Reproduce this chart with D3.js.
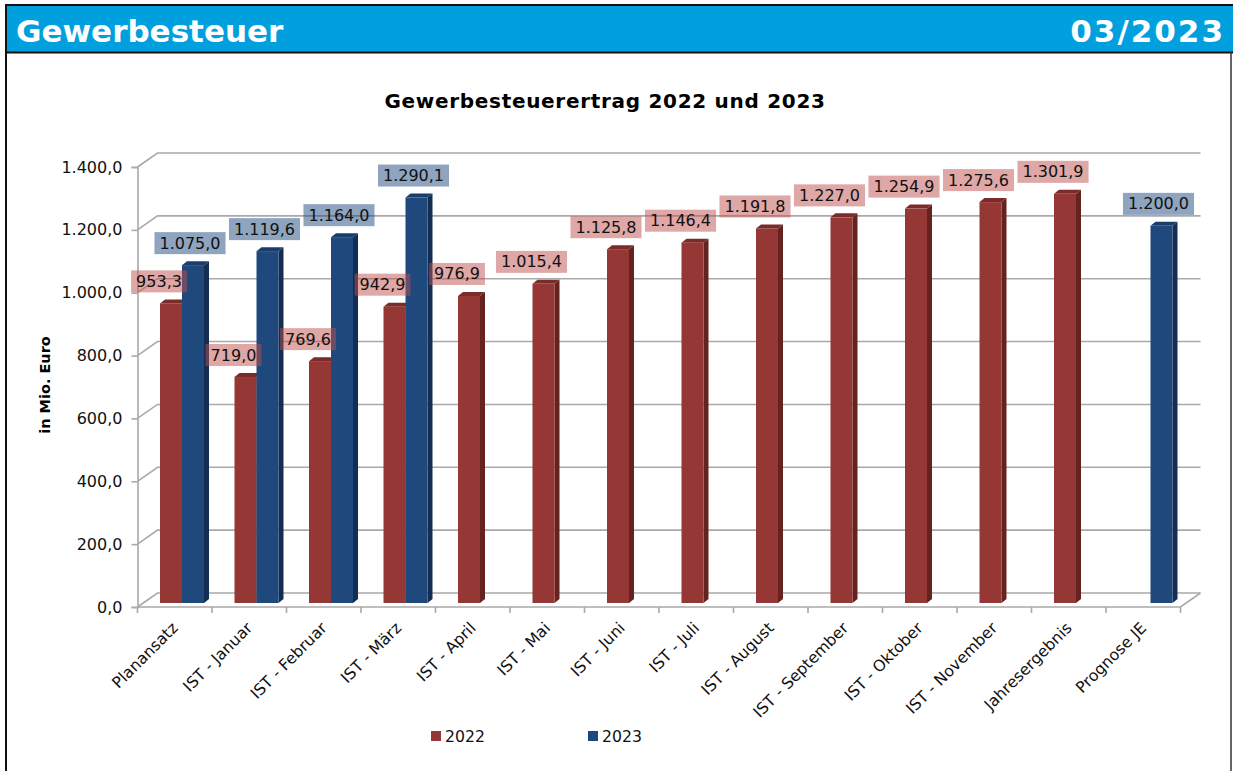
<!DOCTYPE html>
<html>
<head>
<meta charset="utf-8">
<script src="https://cdn.jsdelivr.net/npm/d3@7"></script>
<style>
  body { margin: 0; background: #fff; }
  svg { display: block; font-family: "DejaVu Sans", Verdana, sans-serif; }
</style>
</head>
<body>
<script>
// Data
const categories = ["Planansatz", "IST - Januar", "IST - Februar", "IST - März", "IST - April", "IST - Mai",
  "IST - Juni", "IST - Juli", "IST - August", "IST - September", "IST - Oktober", "IST - November",
  "Jahresergebnis", "Prognose JE"];
const values2022 = [953.3, 719.0, 769.6, 942.9, 976.9, 1015.4, 1125.8, 1146.4, 1191.8, 1227.0, 1254.9, 1275.6, 1301.9, null];
const values2023 = [1075.0, 1119.6, 1164.0, 1290.1, null, null, null, null, null, null, null, null, null, 1200.0];
const yTicks = [0, 200, 400, 600, 800, 1000, 1200, 1400];
const seriesNames = ["2022", "2023"];

let width = 1233;
let height = 771;

const de = d3.formatLocale({decimal: ",", thousands: ".", grouping: [3], currency: ["", " €"]});
const fmt = de.format(",.1f");

const svg = d3.select("body").append("svg")
    .attr("width", width)
    .attr("height", height)
    .attr("viewBox", [0, 0, width, height]);

// Header bar
svg.append("rect")
    .attr("x", 6).attr("y", 5).attr("width", width - 6).attr("height", 47)
    .attr("fill", "#00a0df");
svg.append("line").attr("x1", 6).attr("x2", width).attr("y1", 5).attr("y2", 5)
    .attr("stroke", "#111").attr("stroke-width", 2);
svg.append("line").attr("x1", 6).attr("x2", width).attr("y1", 52.5).attr("y2", 52.5)
    .attr("stroke", "#111").attr("stroke-width", 2);
svg.append("line").attr("x1", 6).attr("x2", 6).attr("y1", 4).attr("y2", height)
    .attr("stroke", "#111").attr("stroke-width", 2);
svg.append("line").attr("x1", 1231).attr("x2", 1231).attr("y1", 52).attr("y2", height)
    .attr("stroke", "#333").attr("stroke-width", 1.5);

svg.append("text")
    .attr("x", 16).attr("y", 42)
    .attr("fill", "#fff").attr("font-weight", "bold").attr("font-size", 31)
    .text("Gewerbesteuer");
svg.append("text")
    .attr("x", 1225).attr("y", 42)
    .attr("text-anchor", "end")
    .attr("fill", "#fff").attr("font-weight", "bold").attr("font-size", 31)
    .attr("letter-spacing", 2)
    .text("03/2023");

// Chart title
svg.append("text")
    .attr("x", 605).attr("y", 108)
    .attr("text-anchor", "middle")
    .attr("font-weight", "bold").attr("font-size", 20)
    .attr("letter-spacing", 0.7)
    .text("Gewerbesteuerertrag 2022 und 2023");

// Scales
const x = d3.scaleBand()
    .domain(categories)
    .range([137.5, 1180.5]);

const y = d3.scaleLinear()
    .domain([0, 1400])
    .range([607, 167]);

// 3D depth of the back wall and of each bar
const depthX = 20, depthY = 14;
const barW = 22, barDX = 5, barDY = 4, barLift = 4;

// Back wall gridlines (with diagonal on the side wall)
const grid = svg.append("g").attr("fill", "none").attr("stroke", "#a9a9a9").attr("stroke-width", 1.6);
grid.selectAll("path")
    .data(yTicks)
    .join("path")
    .attr("d", d => `M${x.range()[0]},${y(d)} L${x.range()[0] + depthX},${y(d) - depthY} L${x.range()[1] + depthX},${y(d) - depthY}`);

// Floor: front edge and right diagonal
svg.append("path")
    .attr("fill", "none").attr("stroke", "#a9a9a9").attr("stroke-width", 1.6)
    .attr("d", `M${x.range()[0]},${y(0)} L${x.range()[1]},${y(0)} L${x.range()[1] + depthX},${y(0) - depthY}`);

// Y axis
svg.append("g")
    .attr("transform", `translate(${x.range()[0]},0)`)
    .call(d3.axisLeft(y).tickValues(yTicks).tickFormat(fmt).tickSize(6).tickPadding(9))
    .call(g => g.select(".domain").attr("stroke", "#a9a9a9").attr("stroke-width", 1.6))
    .call(g => g.selectAll(".tick line").attr("stroke", "#a9a9a9").attr("stroke-width", 1.6))
    .call(g => g.selectAll("text").attr("font-size", 16).attr("fill", "#111")
        .attr("font-family", "DejaVu Sans, Verdana, sans-serif"));

// Y axis title
svg.append("text")
    .attr("transform", "translate(50,385) rotate(-90)")
    .attr("text-anchor", "middle")
    .attr("font-weight", "bold").attr("font-size", 14.5)
    .text("in Mio. Euro");

// X axis ticks and labels
const xAxis = svg.append("g")
    .attr("transform", `translate(0,${y(0)})`);
xAxis.selectAll("line")
    .data(categories.concat(["end"]))
    .join("line")
    .attr("x1", (d, i) => x.range()[0] + i * x.bandwidth())
    .attr("x2", (d, i) => x.range()[0] + i * x.bandwidth())
    .attr("y1", 0).attr("y2", 6)
    .attr("stroke", "#a9a9a9").attr("stroke-width", 1.6);
xAxis.selectAll("text")
    .data(categories)
    .join("text")
    .attr("transform", d => `translate(${x(d) + x.bandwidth() / 2 + 4},${22}) rotate(-45)`)
    .attr("text-anchor", "end")
    .attr("font-size", 15.7)
    .attr("fill", "#111")
    .text(d => d);

// Bars
const series = [
  {name: seriesNames[0], values: values2022, offset: 22.5, front: "#953735", side: "#65221f", top: "#7b2c2a", label: "#c0504d", shift: -12},
  {name: seriesNames[1], values: values2023, offset: 44.5, front: "#1f497d", side: "#132e52", top: "#1a3d69", label: "#1f497d", shift: -3}
];

const barBase = y(0) - barLift;

series.forEach(s => {
  const data = categories.map((c, i) => ({cat: c, v: s.values[i]})).filter(d => d.v != null);
  const g = svg.append("g");
  const bar = g.selectAll("g")
      .data(data)
      .join("g");

  bar.append("polygon")
      .attr("fill", s.side)
      .attr("points", d => {
        const x0 = x(d.cat) + s.offset + barW, top = y(d.v) - barLift;
        return [[x0, top], [x0 + barDX, top - barDY], [x0 + barDX, barBase - barDY], [x0, barBase]].join(" ");
      });
  bar.append("polygon")
      .attr("fill", s.top)
      .attr("points", d => {
        const x0 = x(d.cat) + s.offset, top = y(d.v) - barLift;
        return [[x0, top], [x0 + barDX, top - barDY], [x0 + barW + barDX, top - barDY], [x0 + barW, top]].join(" ");
      });
  bar.append("rect")
      .attr("fill", s.front)
      .attr("x", d => x(d.cat) + s.offset)
      .attr("y", d => y(d.v) - barLift)
      .attr("width", barW)
      .attr("height", d => barBase - (y(d.v) - barLift));

  s.data = data;
});

// Data labels (drawn after all bars, semi-transparent boxes)
series.forEach(s => {
  const lab = svg.append("g").selectAll("g")
      .data(s.data)
      .join("g")
      .attr("transform", d => `translate(${x(d.cat) + s.offset + barW / 2 + s.shift},${y(d.v) - barLift - barDY - 7})`);
  lab.append("text")
      .attr("text-anchor", "middle")
      .attr("y", -5.5)
      .attr("font-size", 16)
      .attr("fill", "#111")
      .text(d => fmt(d.v));
  lab.insert("rect", "text")
      .attr("fill", s.label)
      .attr("fill-opacity", 0.5)
      .attr("y", -22)
      .attr("height", 22)
      .each(function() {
        const w = d3.select(this.parentNode).select("text").node().getComputedTextLength() + 10;
        d3.select(this).attr("x", -w / 2).attr("width", w);
      });
});

// Legend
const legend = svg.append("g")
    .selectAll("g")
    .data(series)
    .join("g")
    .attr("transform", (d, i) => `translate(${431 + i * 157},731)`);
legend.append("rect")
    .attr("width", 10).attr("height", 10)
    .attr("fill", d => d.front);
legend.append("text")
    .attr("x", 14).attr("y", 11)
    .attr("font-size", 15.7).attr("fill", "#111")
    .text(d => d.name);
</script>
</body>
</html>
